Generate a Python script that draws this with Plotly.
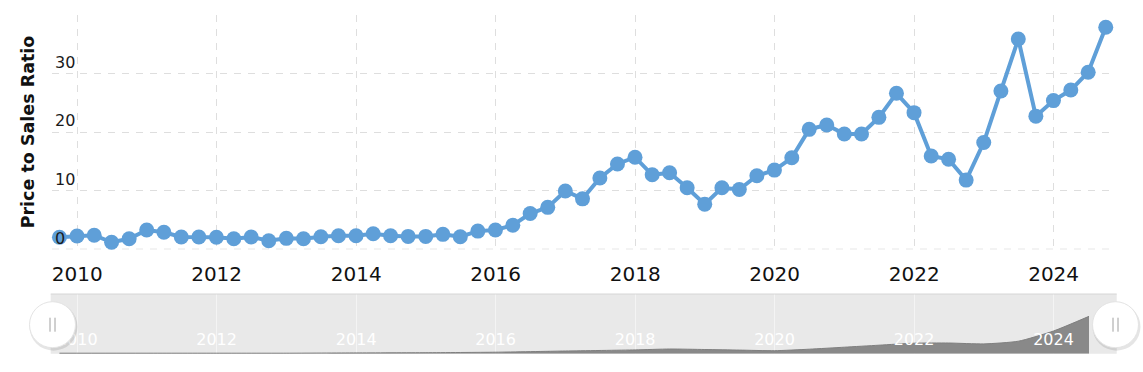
import plotly.graph_objects as go

# ---- data -------------------------------------------------------------
quarter_ends = ["03-31", "06-30", "09-30", "12-31"]
dates = [f"{y}-{q}" for y in range(2009, 2025) for q in quarter_ends][2:-1]  # 2009-09-30 .. 2024-09-30

ps_ratio = [2.05, 2.27, 2.4, 1.2, 1.8, 3.3, 2.9, 2.1, 2.1, 2.05,
            1.8, 2.1, 1.47, 1.87, 1.8, 2.15, 2.3, 2.3, 2.66, 2.3,
            2.2, 2.2, 2.55, 2.15, 3.1, 3.3, 4.1, 6.1, 7.15, 9.95,
            8.6, 12.15, 14.55, 15.7, 12.7, 13.05, 10.5, 7.7, 10.5, 10.2,
            12.55, 13.5, 15.6, 20.45, 21.2, 19.65, 19.65, 22.5, 26.6, 23.3,
            15.9, 15.35, 11.8, 18.2, 27.0, 35.85, 22.7, 25.35, 27.15, 30.2, 37.85]

# navigator (overview) series, estimated
nav_dates = ["2009-09-30", "2011-01-01", "2012-01-01", "2013-01-01", "2014-01-01",
             "2015-01-01", "2016-01-01", "2017-01-01", "2018-01-01", "2018-07-01",
             "2019-01-01", "2019-07-01", "2020-01-01", "2020-07-01", "2021-01-01",
             "2021-07-01", "2022-01-01", "2022-07-01", "2023-01-01", "2023-07-01",
             "2024-01-01", "2024-07-05"]
nav_values = [1.8, 1.8, 1.8, 1.8, 2.9, 3.6, 5.4, 9.7, 13.7, 16.9,
              15.1, 13.0, 10.8, 16.2, 23.4, 30.6, 37.8, 38.5, 35.3, 45.0,
              81.7, 134.6]

y_tickvals = [0, 10, 20, 30, 40]
y_ticktext = ["0", "10", "20", "30", ""]
y_title = "Price to Sales Ratio"

# ---- layout geometry ---------------------------------------------------
W, H = 1143, 372
def px_x(p): return p / W
def px_y(p): return (H - p) / H

LINE = "#5f9fd8"
FONT = "DejaVu Sans"

fig = go.Figure()
fig.add_trace(go.Scatter(
    x=dates, y=ps_ratio, mode="lines+markers",
    line=dict(color=LINE, width=4),
    marker=dict(color=LINE, size=15),
    cliponaxis=False, xaxis="x", yaxis="y", showlegend=False))

fig.add_trace(go.Scatter(
    x=nav_dates, y=nav_values, mode="lines", fill="tozeroy",
    line=dict(color="#7f7f7f", width=1, shape="spline", smoothing=0.6),
    fillcolor="#898989", xaxis="x2", yaxis="y2", showlegend=False))

shapes = [
    # navigator background
    dict(type="rect", xref="x2 domain", yref="y2 domain", x0=0, x1=1, y0=0, y1=1,
         fillcolor="#e9e9e9", line=dict(width=0), layer="below"),
    dict(type="line", xref="x2 domain", yref="y2 domain", x0=0, x1=1, y0=1, y1=1,
         line=dict(color="#d6d6d6", width=1), layer="above"),
    # dashed baseline at zero
    dict(type="line", xref="x domain", yref="y", x0=0, x1=1, y0=0, y1=0,
         line=dict(color="#c2c2c2", width=1, dash="7px,7px"), layer="below"),
]
for cx in (52.5, 1115.5):
    cy = 324.7
    shapes.append(dict(type="circle", xref="paper", yref="paper",
                       xsizemode="pixel", ysizemode="pixel",
                       xanchor=px_x(cx + 1), yanchor=px_y(cy + 2),
                       x0=-24, x1=24, y0=-24, y1=24,
                       fillcolor="rgba(0,0,0,0.10)", line=dict(width=0)))
    shapes.append(dict(type="circle", xref="paper", yref="paper",
                       xsizemode="pixel", ysizemode="pixel",
                       xanchor=px_x(cx), yanchor=px_y(cy),
                       x0=-23, x1=23, y0=-23, y1=23,
                       fillcolor="white", line=dict(color="#e4e4e4", width=1)))
    for dx in (-2.5, 2.5):
        shapes.append(dict(type="line", xref="paper", yref="paper",
                           xsizemode="pixel", ysizemode="pixel",
                           xanchor=px_x(cx), yanchor=px_y(cy),
                           x0=dx, x1=dx, y0=-7, y1=7,
                           line=dict(color="#a0a0a0", width=1)))

fig.update_layout(
    width=W, height=H,
    margin=dict(l=0, r=0, t=0, b=0, pad=0),
    paper_bgcolor="white", plot_bgcolor="white",
    font=dict(family=FONT, color="#222"),
    hovermode=False,
    xaxis=dict(domain=[px_x(52), px_x(1109)], range=["2009-08-22", "2024-10-17"],
               type="date", tick0="2010-01-01", dtick="M24", tickformat="%Y",
               showgrid=True, gridcolor="#dedede", griddash="7px,7px", gridwidth=1,
               zeroline=False, showline=False, ticks="",
               tickfont=dict(size=20, color="#111", family=FONT),
               ticklabelstandoff=11, anchor="y", fixedrange=True),
    yaxis=dict(domain=[px_y(249.3), px_y(14.7)], range=[0, 40],
               tickmode="array", tickvals=y_tickvals, ticktext=y_ticktext,
               showgrid=True, gridcolor="#dedede", griddash="7px,7px", gridwidth=1,
               zeroline=False, showline=False, ticks="",
               ticklabelposition="inside top",
               tickfont=dict(size=16, color="#1a1a1a", family=FONT),
               title=dict(text=y_title, standoff=15.5,
                          font=dict(size=17.5, family=FONT, weight="bold", color="#111")),
               anchor="x", fixedrange=True),
    xaxis2=dict(domain=[px_x(50.7), px_x(1116.7)], range=["2009-08-15", "2024-11-27"],
                type="date", tick0="2010-01-01", dtick="M24", tickformat="%Y",
                showgrid=True, gridcolor="#f4f4f4", gridwidth=1,
                zeroline=False, showline=False, ticks="",
                ticklabelposition="inside", ticklabelstandoff=3,
                tickfont=dict(size=16, color="white", family=FONT),
                anchor="y2", fixedrange=True, layer="above traces"),
    yaxis2=dict(domain=[px_y(353.7), px_y(294)], range=[0, 215],
                visible=False, showgrid=False, anchor="x2", fixedrange=True),
    shapes=shapes,
)

fig.write_html("out.html", config={"displayModeBar": False})
